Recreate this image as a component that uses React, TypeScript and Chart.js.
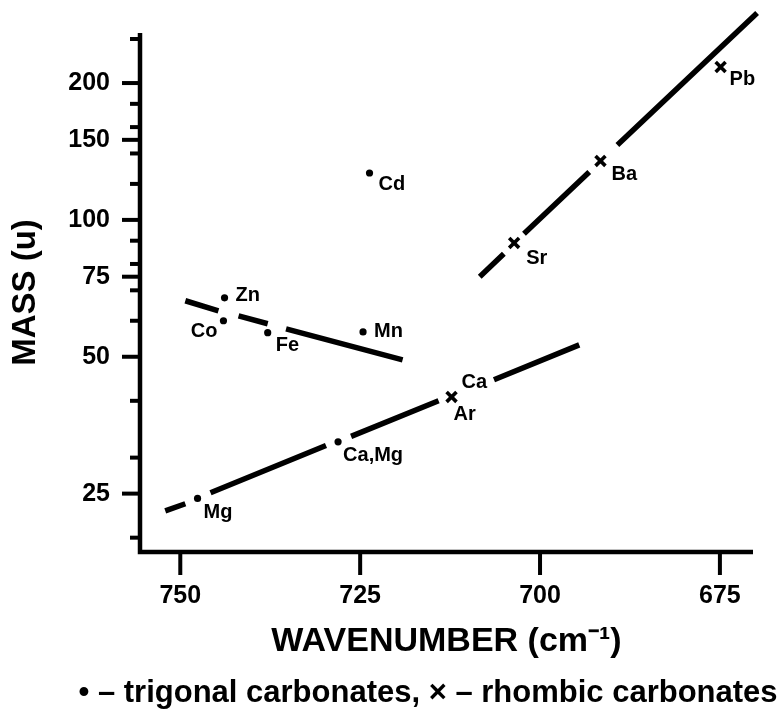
import React, { useEffect, useRef } from 'react';
import { Chart, registerables } from 'chart.js';

Chart.register(...registerables);

// ---- data ----
const trigonalNames = ['Zn', 'Co', 'Fe', 'Mn', 'Cd', 'Mg', 'Ca,Mg'];
const trigonalWavenumber = [743.85, 744.0, 737.85, 724.6, 723.7, 747.6, 728.07];
const trigonalMass = [67.4, 60.0, 56.5, 56.7, 126.8, 24.4, 32.5];

const rhombicNames = ['Ca', 'Sr', 'Ba', 'Pb'];
const rhombicExtraNames = ['Ar', '', '', ''];
const rhombicWavenumber = [712.3, 703.6, 691.6, 674.9];
const rhombicMass = [40.8, 89.0, 134.8, 216.9];

// fitted lines (broken around the points; null = gap)
const fitZnMnWavenumber = [749.3, 744.7, 743.3, 741.9, 737.85, 736.6, 735.3, 719.1];
const fitZnMnMass = [66.4, 63.1, null, 61.5, 59.1, null, 57.6, 49.2];

const fitMgCaWavenumber = [752.09, 749.3, 747.5, 745.8, 729.75, 728.0, 726.26, 714.1, 710.0, 706.4, 694.55];
const fitMgCaMass = [22.9, 23.75, null, 25.1, 31.9, null, 33.4, 40.0, null, 44.5, 53.1];

const fitSrPbWavenumber = [708.38, 705.03, 703.6, 702.23, 693.16, 691.2, 689.25, 669.83];
const fitSrPbMass = [75.0, 84.2, null, 93.2, 127.5, null, 146.2, 285.1];

// axes
const xMin = 670.4;
const xMax = 755.6;
const xTickValues = [750, 725, 700, 675];
const yMin = 18.6;
const yMax = 257.7;
const yTickValues = [20, 25, 30, 40, 50, 60, 70, 75, 80, 90, 100, 120, 140, 150, 160, 180, 200, 250];
const yLabeledValues = [25, 50, 75, 100, 150, 200];

const xTitle = 'WAVENUMBER (cm\u207B\u00B9)';
const yTitle = 'MASS (u)';
const legendText = '\u2022 \u2013 trigonal carbonates, \u00D7 \u2013 rhombic carbonates';

// ---- styling (pixel offsets for point labels) ----
const FONT = "'Liberation Sans', Arial, Helvetica, sans-serif";
const labelOffsets: Record<string, [number, number, CanvasTextAlign]> = {
  Zn: [11, -2, 'left'],
  Co: [-6, 11, 'right'],
  Fe: [8, 13, 'left'],
  Mn: [11, 0, 'left'],
  Cd: [9, 11, 'left'],
  Mg: [6, 14, 'left'],
  'Ca,Mg': [5, 14, 'left'],
  Ca: [10, -14, 'left'],
  Ar: [2, 18, 'left'],
  Sr: [12, 16, 'left'],
  Ba: [11, 14, 'left'],
  Pb: [9, 12, 'left'],
};

const toXY = (xs: number[], ys: (number | null)[]) => xs.map((x, i) => ({ x, y: ys[i] }));

const axesPlugin = {
  id: 'paperAxes',
  afterDatasetsDraw(chart: any) {
    const { ctx, chartArea, scales } = chart;
    const x = scales.x;
    const y = scales.y;
    const { left, right, top, bottom } = chartArea;
    ctx.save();
    ctx.strokeStyle = '#000';
    ctx.lineCap = 'butt';
    ctx.lineWidth = 4.5;
    ctx.beginPath();
    ctx.moveTo(left, top);
    ctx.lineTo(left, bottom);
    ctx.lineTo(right, bottom);
    ctx.stroke();
    ctx.lineWidth = 4;
    for (const v of xTickValues) {
      const px = x.getPixelForValue(v);
      ctx.beginPath();
      ctx.moveTo(px, bottom);
      ctx.lineTo(px, bottom + 23);
      ctx.stroke();
    }
    for (const v of yTickValues) {
      const py = y.getPixelForValue(v);
      const len = yLabeledValues.includes(v) ? 18 : 10;
      ctx.beginPath();
      ctx.moveTo(left - len, py);
      ctx.lineTo(left, py);
      ctx.stroke();
    }
    // point labels
    ctx.fillStyle = '#000';
    ctx.font = `bold 20px ${FONT}`;
    ctx.textBaseline = 'middle';
    const drawLabel = (name: string, wx: number, m: number) => {
      if (!name) return;
      const off = labelOffsets[name] || [8, 0, 'left'];
      ctx.textAlign = off[2];
      ctx.fillText(name, x.getPixelForValue(wx) + off[0], y.getPixelForValue(m) + off[1]);
    };
    trigonalNames.forEach((n, i) => drawLabel(n, trigonalWavenumber[i], trigonalMass[i]));
    rhombicNames.forEach((n, i) => drawLabel(n, rhombicWavenumber[i], rhombicMass[i]));
    rhombicExtraNames.forEach((n, i) => drawLabel(n, rhombicWavenumber[i], rhombicMass[i]));
    // key line under the axis title
    ctx.font = `bold 31px ${FONT}`;
    ctx.textAlign = 'center';
    ctx.fillText(legendText, 428, 693);
    ctx.restore();
  },
};

export default function App() {
  const canvasRef = useRef<HTMLCanvasElement | null>(null);

  useEffect(() => {
    if (!canvasRef.current) return;
    Chart.defaults.color = '#000';
    const lineStyle = {
      type: 'line' as const,
      showLine: true,
      spanGaps: false,
      borderColor: '#000',
      borderWidth: 5.5,
      borderCapStyle: 'butt' as const,
      pointRadius: 0,
      pointHoverRadius: 0,
      fill: false,
      clip: false as any,
      tension: 0,
    };
    const chart = new Chart(canvasRef.current, {
      type: 'scatter',
      data: {
        datasets: [
          { ...lineStyle, label: 'fit Zn-Mn', data: toXY(fitZnMnWavenumber, fitZnMnMass) as any },
          { ...lineStyle, label: 'fit Mg-Ca', data: toXY(fitMgCaWavenumber, fitMgCaMass) as any },
          { ...lineStyle, label: 'fit Sr-Pb', data: toXY(fitSrPbWavenumber, fitSrPbMass) as any },
          {
            label: 'trigonal carbonates',
            data: toXY(trigonalWavenumber, trigonalMass) as any,
            pointStyle: 'circle',
            pointRadius: 3.6,
            backgroundColor: '#000',
            borderColor: '#000',
            borderWidth: 0,
            clip: false as any,
          },
          {
            label: 'rhombic carbonates',
            data: toXY(rhombicWavenumber, rhombicMass) as any,
            pointStyle: 'crossRot',
            pointRadius: 7,
            borderColor: '#000',
            borderWidth: 3.6,
            clip: false as any,
          },
        ],
      },
      options: {
        responsive: false,
        animation: false,
        devicePixelRatio: 1,
        layout: { padding: { left: 0, right: 31, top: 33, bottom: 57 } },
        plugins: {
          legend: { display: false },
          tooltip: { enabled: false },
          title: { display: false },
        },
        scales: {
          x: {
            type: 'linear',
            reverse: true,
            min: xMin,
            max: xMax,
            afterBuildTicks: (scale: any) => {
              scale.ticks = xTickValues.map((v) => ({ value: v }));
            },
            afterFit: (scale: any) => {
              scale.height = 110;
              scale.paddingLeft = 0;
              scale.paddingRight = 0;
            },
            grid: { display: false, drawTicks: true, tickLength: 0 },
            border: { display: false },
            ticks: {
              autoSkip: false,
              maxRotation: 0,
              padding: 29,
              color: '#000',
              font: { family: FONT, size: 25, weight: 'bold' },
              callback: (v: any) => String(v),
            },
            title: {
              display: true,
              text: xTitle,
              color: '#000',
              font: { family: FONT, size: 34, weight: 'bold' },
              padding: { top: 0, bottom: 0 },
            },
          },
          y: {
            type: 'logarithmic',
            min: yMin,
            max: yMax,
            afterBuildTicks: (scale: any) => {
              scale.ticks = yTickValues.map((v) => ({ value: v }));
            },
            afterFit: (scale: any) => {
              scale.width = 140;
              scale.paddingTop = 0;
              scale.paddingBottom = 0;
            },
            grid: { display: false, drawTicks: true, tickLength: 0 },
            border: { display: false },
            ticks: {
              autoSkip: false,
              padding: 30,
              color: '#000',
              font: { family: FONT, size: 25, weight: 'bold' },
              callback: (v: any) => (yLabeledValues.includes(Number(v)) ? String(v) : ''),
            },
            title: {
              display: true,
              text: yTitle,
              color: '#000',
              font: { family: FONT, size: 33, weight: 'bold' },
              padding: { top: 6, bottom: 0 },
            },
          },
        },
      },
      plugins: [axesPlugin],
    });
    return () => chart.destroy();
  }, []);

  return (
    <div style={{ position: 'fixed', left: 0, top: 0, width: 784, height: 719, background: '#fff' }}>
      <canvas ref={canvasRef} width={784} height={719} style={{ display: 'block' }} />
    </div>
  );
}
